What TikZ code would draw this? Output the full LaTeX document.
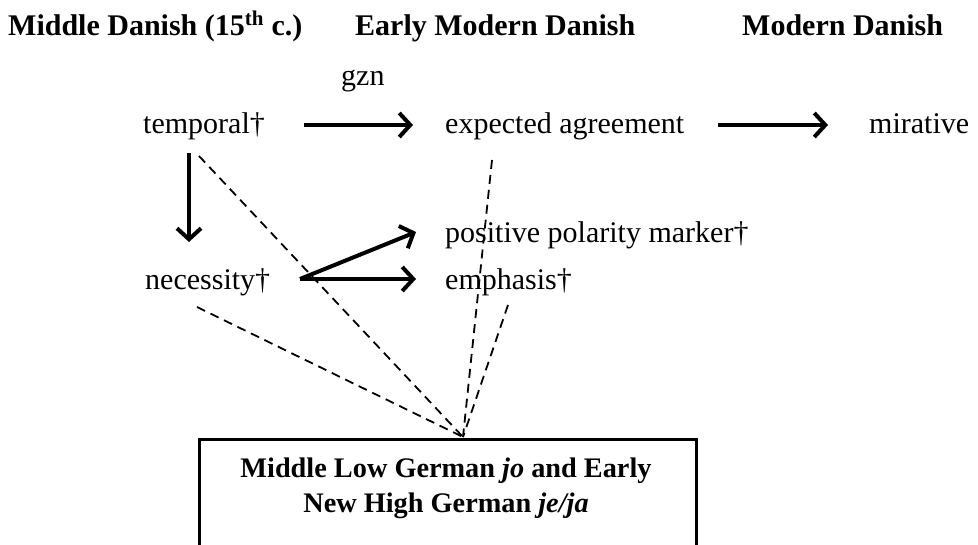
\documentclass[tikz,border=0pt]{standalone}
\usepackage{fontspec}
\setmainfont{Liberation Serif}
\usetikzlibrary{arrows.meta}
\begin{document}
\begin{tikzpicture}[x=1pt,y=-1pt,
  lbl/.style={anchor=base west,inner sep=0pt,font=\fontsize{30}{36}\selectfont},
  hdr/.style={anchor=base west,inner sep=0pt,font=\fontsize{30}{36}\selectfont\bfseries},
  arr/.style={line width=4pt,-{Straight Barb[length=11pt,width=24pt,line width=4pt]}},
  dsh/.style={line width=1.8pt,dash pattern=on 9pt off 6pt}]
\useasboundingbox (0,0) rectangle (978,544);
\node[hdr] (h1) at (8,35) {Middle Danish (15\textsuperscript{th} c.)};
\node[hdr] (h2) at (355,35) {Early Modern Danish};
\node[hdr] (h3) at (742,35) {Modern Danish};
\node[lbl] (gzn) at (341,85) {gzn};
\node[lbl] (temp) at (143,133) {temporal†};
\node[lbl] (exp) at (445,133) {expected agreement};
\node[lbl] (mir) at (869,133) {mirative};
\node[lbl] (nec) at (145,289) {necessity†};
\node[lbl] (pos) at (445,242) {positive polarity marker†};
\node[lbl] (emp) at (445,289) {emphasis†};
\node[draw,line width=3pt,minimum width=497pt,minimum height=110pt,anchor=north west,inner sep=0pt] (box) at (197.5,437.5) {};
\node[anchor=base,inner sep=0pt,font=\fontsize{28.3}{34}\selectfont\bfseries] (bt1) at (446,477) {Middle Low German \textit{jo} and Early};
\node[anchor=base,inner sep=0pt,font=\fontsize{28.3}{34}\selectfont\bfseries] (bt2) at (446,512) {New High German \textit{je/ja}};
% arrows
\coordinate (a1s) at (304,125); \coordinate (a1e) at (413,125);
\draw[arr] (a1s) -- (a1e);
\coordinate (a2s) at (718,125); \coordinate (a2e) at (828,125);
\draw[arr] (a2s) -- (a2e);
\coordinate (a3s) at (189,153); \coordinate (a3e) at (189,242);
\draw[arr] (a3s) -- (a3e);
\coordinate (n0) at (300,279);
\coordinate (a4e) at (416,279); \coordinate (a5e) at (416,232);
\draw[arr] (n0) -- (a4e);
\draw[arr] (n0) -- (a5e);
% dashed
\coordinate (c) at (463,437);
\coordinate (d1) at (199,156);
\coordinate (d2) at (197,307);
\coordinate (d3) at (492,160);
\coordinate (d4) at (508,305);
\draw[dsh] (d1) -- (c);
\draw[dsh] (d2) -- (c);
\draw[dsh] (d3) -- (c);
\draw[dsh] (d4) -- (c);
\end{tikzpicture}
\end{document}
